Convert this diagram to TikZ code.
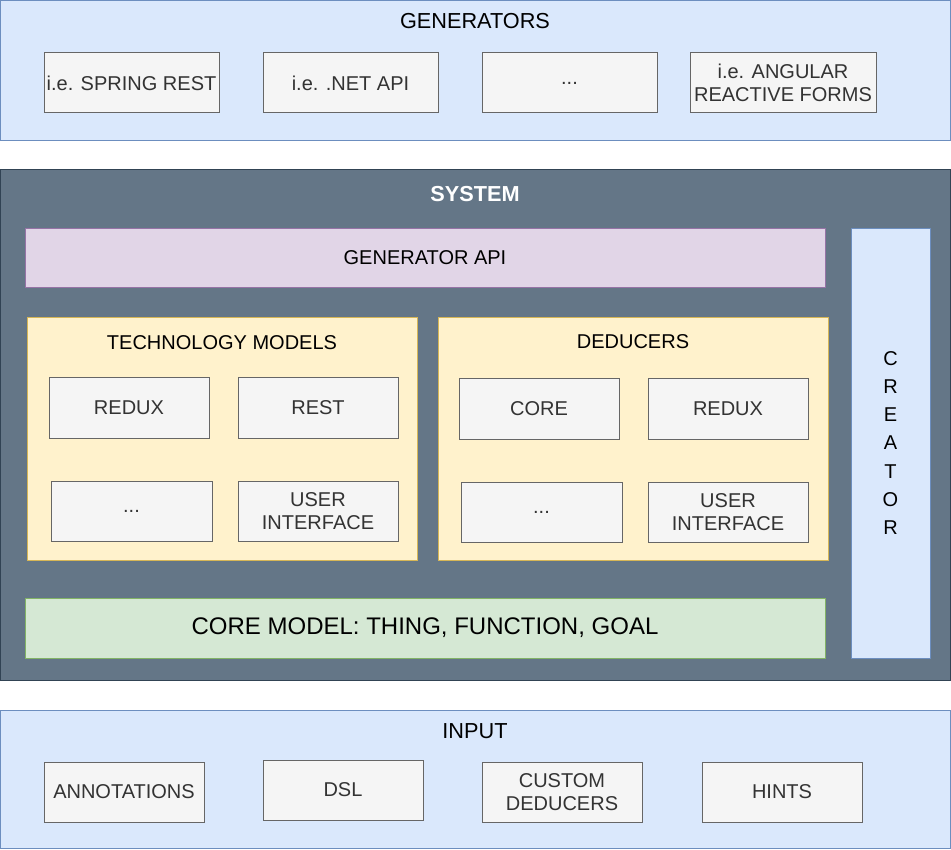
\documentclass[tikz,border=0pt]{standalone}
\usepackage{fontspec}
\setmainfont{Liberation Sans}
\definecolor{bluef}{HTML}{DAE8FC}
\definecolor{blued}{HTML}{6C8EBF}
\definecolor{slatef}{HTML}{647687}
\definecolor{slated}{HTML}{314354}
\definecolor{purpf}{HTML}{E1D5E7}
\definecolor{purpd}{HTML}{9673A6}
\definecolor{yelf}{HTML}{FFF2CC}
\definecolor{yeld}{HTML}{D6B656}
\definecolor{grnf}{HTML}{D5E8D4}
\definecolor{grnd}{HTML}{82B366}
\definecolor{grayf}{HTML}{F5F5F5}
\definecolor{grayd}{HTML}{666666}
\definecolor{grayt}{HTML}{333333}
\tikzset{
  frame/.style={rectangle, anchor=north west, inner sep=0pt, outer sep=0pt, line width=1pt},
  bluebox/.style={frame, fill=bluef, draw=blued},
  sysbox/.style={frame, fill=slatef, draw=slated},
  apibox/.style={frame, fill=purpf, draw=purpd},
  yelbox/.style={frame, fill=yelf, draw=yeld},
  grnbox/.style={frame, fill=grnf, draw=grnd},
  itembox/.style={frame, fill=grayf, draw=grayd, text=grayt, align=center,
    font=\fontsize{20}{23.5}\selectfont},
  ttl/.style={font=\fontsize{20}{23}\selectfont, inner sep=0pt},
  bigttl/.style={font=\fontsize{21.7}{25}\selectfont, inner sep=0pt},
}
\begin{document}
\begin{tikzpicture}[x=1pt,y=-1pt]
\useasboundingbox (0,0) rectangle (951,850);
% GENERATORS
\node[bluebox, minimum width=950pt, minimum height=140pt] (gen) at (0.5,0.5) {};
\node[bigttl] (gent) at (475,21) {GENERATORS};
\node[itembox, minimum width=175pt, minimum height=60pt] (g1) at (44,53) {i.e. SPRING REST};
\node[itembox, minimum width=175pt, minimum height=60pt] (g2) at (263,53) {i.e. .NET API};
\node[itembox, minimum width=175pt, minimum height=60pt] (g3) at (482,53) {...};
\node[itembox, minimum width=186pt, minimum height=60pt] (g4) at (690,53) {i.e. ANGULAR\\REACTIVE FORMS};
% SYSTEM
\node[sysbox, minimum width=950pt, minimum height=510pt] (sys) at (0.5,170) {};
\node[inner sep=0pt, text=white, font=\fontsize{21.7}{25}\selectfont\bfseries] (syst) at (475,194) {SYSTEM};
\node[apibox, minimum width=800pt, minimum height=59pt] (api) at (25,229) {};
\node[ttl] (apit) at (425,258) {GENERATOR API};
\node[bluebox, minimum width=79pt, minimum height=429pt] (cre) at (851,229) {};
\node[align=center, inner sep=0pt, font=\fontsize{20}{28.3}\selectfont] (cret) at (890.5,443) {C\\R\\E\\A\\T\\O\\R};
% TECHNOLOGY MODELS
\node[yelbox, minimum width=390pt, minimum height=242pt] (tech) at (27,318) {};
\node[ttl] (techt) at (222,343) {TECHNOLOGY MODELS};
\node[itembox, minimum width=160pt, minimum height=60pt] (t1) at (49,378) {REDUX};
\node[itembox, minimum width=160pt, minimum height=60pt] (t2) at (238,378) {REST};
\node[itembox, minimum width=161pt, minimum height=60pt] (t3) at (51,481) {...};
\node[itembox, minimum width=160pt, minimum height=60pt] (t4) at (238,481) {USER\\INTERFACE};
% DEDUCERS
\node[yelbox, minimum width=390pt, minimum height=242pt] (ded) at (438,318) {};
\node[ttl] (dedt) at (633,342) {DEDUCERS};
\node[itembox, minimum width=160pt, minimum height=60pt] (d1) at (459,379) {CORE};
\node[itembox, minimum width=160pt, minimum height=60pt] (d2) at (648,379) {REDUX};
\node[itembox, minimum width=161pt, minimum height=60pt] (d3) at (461,482) {...};
\node[itembox, minimum width=160pt, minimum height=60pt] (d4) at (648,482) {USER\\INTERFACE};
% CORE MODEL
\node[grnbox, minimum width=800pt, minimum height=60pt] (core) at (25,598) {};
\node[inner sep=0pt, font=\fontsize{24}{28}\selectfont] (coret) at (425,628) {CORE MODEL: THING, FUNCTION, GOAL};
% INPUT
\node[bluebox, minimum width=950pt, minimum height=138pt] (inp) at (0.5,710) {};
\node[bigttl] (inpt) at (475,731) {INPUT};
\node[itembox, minimum width=160pt, minimum height=60pt] (i1) at (44,762) {ANNOTATIONS};
\node[itembox, minimum width=160pt, minimum height=60pt] (i2) at (263,760) {DSL};
\node[itembox, minimum width=160pt, minimum height=60pt] (i3) at (482,762) {CUSTOM\\DEDUCERS};
\node[itembox, minimum width=160pt, minimum height=60pt] (i4) at (702,762) {HINTS};
\end{tikzpicture}
\end{document}
